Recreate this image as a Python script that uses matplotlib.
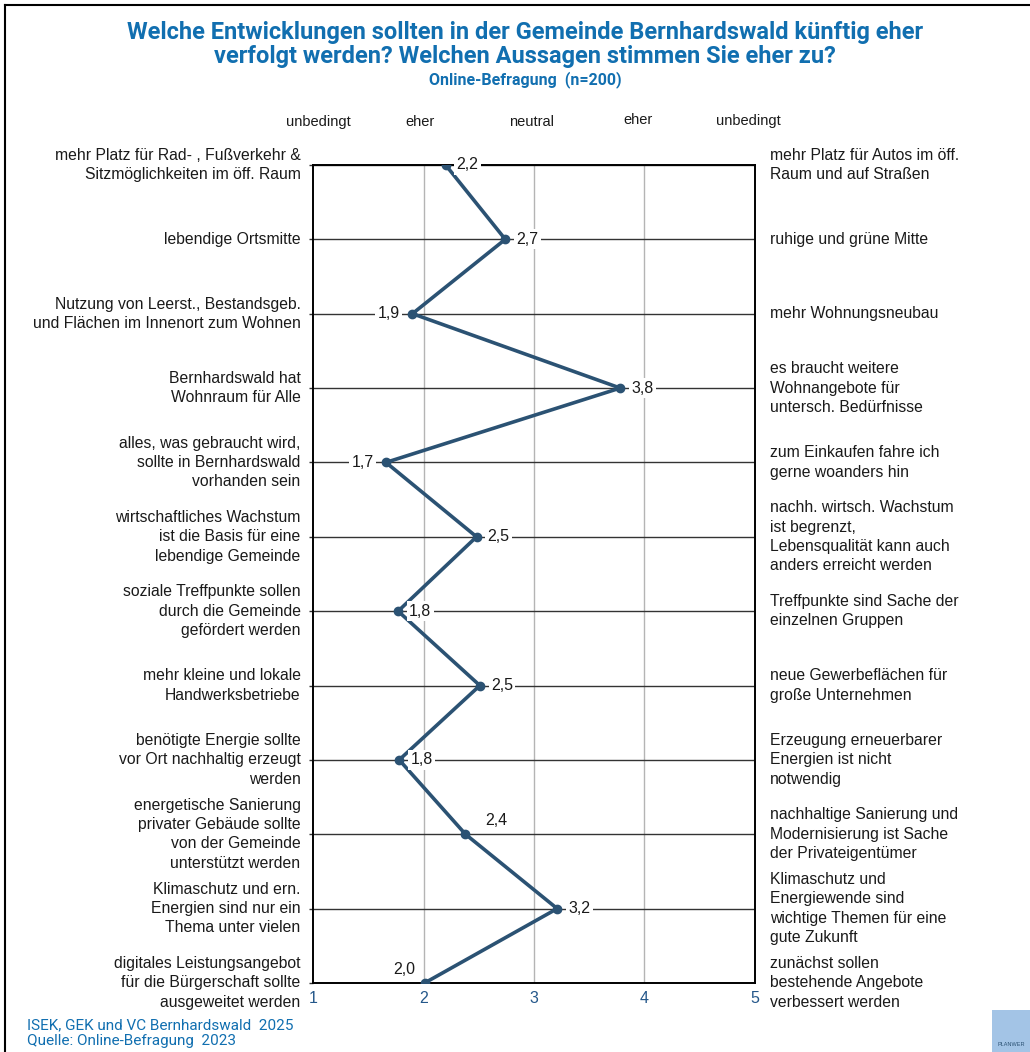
import matplotlib
matplotlib.use("Agg")
import matplotlib.pyplot as plt
from matplotlib.lines import Line2D
from matplotlib.patches import Rectangle

plt.rcParams["font.family"] = ["Liberation Sans", "DejaVu Sans"]

left_labels = [
    "mehr Platz für Rad- , Fußverkehr &\nSitzmöglichkeiten im öff. Raum",
    "lebendige Ortsmitte",
    "Nutzung von Leerst., Bestandsgeb.\nund Flächen im Innenort zum Wohnen",
    "Bernhardswald hat\nWohnraum für Alle",
    "alles, was gebraucht wird,\nsollte in Bernhardswald\nvorhanden sein",
    "wirtschaftliches Wachstum\nist die Basis für eine\nlebendige Gemeinde",
    "soziale Treffpunkte sollen\ndurch die Gemeinde\ngefördert werden",
    "mehr kleine und lokale\nHandwerksbetriebe",
    "benötigte Energie sollte\nvor Ort nachhaltig erzeugt\nwerden",
    "energetische Sanierung\nprivater Gebäude sollte\nvon der Gemeinde\nunterstützt werden",
    "Klimaschutz und ern.\nEnergien sind nur ein\nThema unter vielen",
    "digitales Leistungsangebot\nfür die Bürgerschaft sollte\nausgeweitet werden",
]
right_labels = [
    "mehr Platz für Autos im öff.\nRaum und auf Straßen",
    "ruhige und grüne Mitte",
    "mehr Wohnungsneubau",
    "es braucht weitere\nWohnangebote für\nuntersch. Bedürfnisse",
    "zum Einkaufen fahre ich\ngerne woanders hin",
    "nachh. wirtsch. Wachstum\nist begrenzt,\nLebensqualität kann auch\nanders erreicht werden",
    "Treffpunkte sind Sache der\neinzelnen Gruppen",
    "neue Gewerbeflächen für\ngroße Unternehmen",
    "Erzeugung erneuerbarer\nEnergien ist nicht\nnotwendig",
    "nachhaltige Sanierung und\nModernisierung ist Sache\nder Privateigentümer",
    "Klimaschutz und\nEnergiewende sind\nwichtige Themen für eine\ngute Zukunft",
    "zunächst sollen\nbestehende Angebote\nverbessert werden",
]
values = [2.20, 2.74, 1.90, 3.78, 1.66, 2.48, 1.77, 2.51, 1.78, 2.38, 3.21, 2.01]
scale_labels = ["unbedingt", "eher", "neutral", "eher", "unbedingt"]
scale_ticks = [1, 2, 3, 4, 5]

LINE = "#2b5273"
BLUE = "#116fb0"
TXT = "#1a1a1a"

fig = plt.figure(figsize=(10.30, 10.52), dpi=100)
ax = fig.add_axes([0.3039, 0.0656, 0.4291, 0.7776])

rows = list(range(len(values)))
ax.set_xlim(1, 5)
ax.set_ylim(len(values) - 1, 0)

for r in rows:
    ax.axhline(r, color="#333333", lw=1.0, zorder=1)
for x in scale_ticks[1:-1]:
    ax.axvline(x, color="#b4b4b4", lw=1.0, zorder=0)

ax.plot(values, rows, color=LINE, lw=2.6, marker="o", ms=6, zorder=3)

# data labels: default right of the point, a few placed elsewhere
offsets = {2: (-9, 0, "right", "center"), 4: (-9, 0, "right", "center"),
           9: (22, 10, "center", "center"), 11: (-15, 9.5, "center", "center")}
for r, v in enumerate(values):
    dx, dy, ha, va = offsets.get(r, (8, 0, "left", "center"))
    ax.annotate(f"{v:.1f}".replace(".", ","), (v, r), xytext=(dx, dy),
                textcoords="offset points", ha=ha, va=va, fontsize=11.5,
                color=TXT, zorder=4,
                bbox=dict(boxstyle="square,pad=0.15", fc="white", ec="none"))

for s in ax.spines.values():
    s.set_color("black")
    s.set_linewidth(1.4)

ax.set_yticks(rows)
ax.set_yticklabels([])
ax.tick_params(axis="y", length=3, width=1, color="#333333")
ax.set_xticks(scale_ticks)
ax.set_xticklabels([str(t) for t in scale_ticks])
ax.tick_params(axis="x", length=0, pad=6, labelsize=11.5, labelcolor="#24578a")

# side statements
for r in rows:
    ax.annotate(left_labels[r], (0, r), xycoords=("axes fraction", "data"),
                xytext=(-9, 0), textcoords="offset points",
                ha="right", va="center", fontsize=11.3, color=TXT,
                linespacing=1.36)
    ax.annotate(right_labels[r], (1, r), xycoords=("axes fraction", "data"),
                xytext=(11, 0), textcoords="offset points",
                ha="left", va="center", fontsize=11.3, color=TXT,
                linespacing=1.36)

# scale header above the axis
header_x = [318, 420, 532, 638, 748]
header_y = [122, 122, 122, 120, 121]
for hx, hy, lab in zip(header_x, header_y, scale_labels):
    fig.text(hx / 1030, 1 - hy / 1052, lab,
             ha="center", va="center", fontsize=10.5, color=TXT)

# titles
fig.text(0.51, 1 - 33 / 1052, "Welche Entwicklungen sollten in der Gemeinde Bernhardswald künftig eher",
         ha="center", va="center", fontsize=17, fontweight="bold", color=BLUE,
         family="Roboto")
fig.text(0.51, 1 - 57 / 1052, "verfolgt werden? Welchen Aussagen stimmen Sie eher zu?",
         ha="center", va="center", fontsize=17, fontweight="bold", color=BLUE,
         family="Roboto")
fig.text(0.51, 1 - 80 / 1052, "Online-Befragung  (n=200)",
         ha="center", va="center", fontsize=11.5, fontweight="bold", color=BLUE,
         family="Roboto")

# footer
fig.text(27 / 1030, 1 - 1025 / 1052, "ISEK, GEK und VC Bernhardswald  2025",
         ha="left", va="center", fontsize=11, color=BLUE, family="Roboto")
fig.text(27 / 1030, 1 - 1041 / 1052, "Quelle: Online-Befragung  2023",
         ha="left", va="center", fontsize=11, color=BLUE, family="Roboto")

# logo box
fig.patches.append(Rectangle((992 / 1030, 0), 38 / 1030, 42 / 1052,
                             transform=fig.transFigure, fc="#a3c4e6", ec="none"))
fig.text(1011 / 1030, 5 / 1052, "PLANWER", ha="center", va="bottom",
         fontsize=4, color="#2b5273")

# frame
fig.lines.append(Line2D([5 / 1030, 5 / 1030], [0, 1 - 5 / 1052],
                        transform=fig.transFigure, color="black", lw=1.5))
fig.lines.append(Line2D([5 / 1030, 1], [1 - 5 / 1052, 1 - 5 / 1052],
                        transform=fig.transFigure, color="black", lw=1.5))

fig.savefig("out.png", dpi=100)
